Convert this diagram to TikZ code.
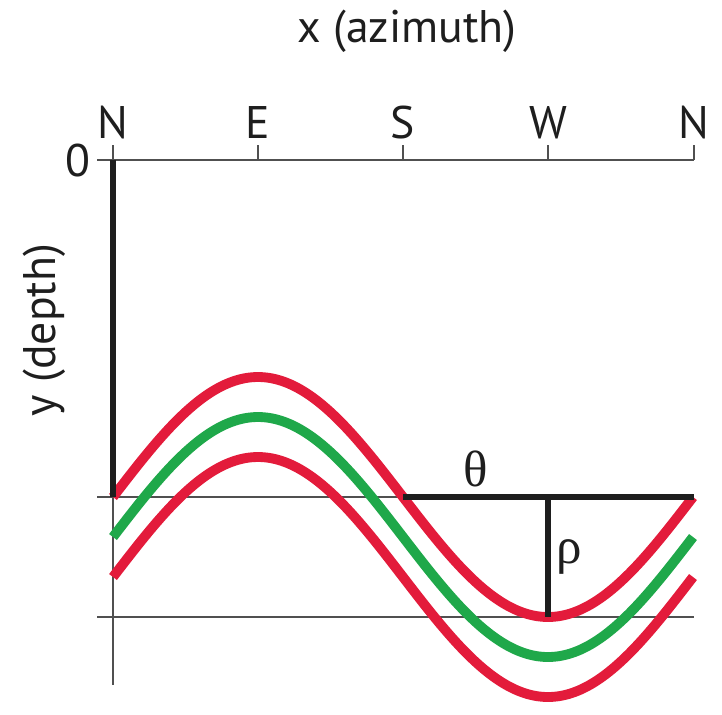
\documentclass[tikz,border=0pt]{standalone}
\usepackage{fontspec}
\setmainfont{PT Sans}
\newfontfamily\greekfont{Liberation Serif}
\usetikzlibrary{positioning}
\definecolor{sineink}{HTML}{1E1E1E}
\definecolor{sinegrid}{HTML}{505050}
\definecolor{sinered}{HTML}{E31B3B}
\definecolor{sinegreen}{HTML}{1FA84A}

\begin{document}
\begin{tikzpicture}[x=0.02cm,y=-0.02cm,
    thinline/.style={sinegrid,line width=0.8pt},
    thickline/.style={sineink,line width=3.1pt},
    sinecurve/.style={line width=5.6pt},
    dirlabel/.style={font=\fontsize{26}{28}\selectfont,text=sineink}]
    \useasboundingbox (0,0) rectangle (722,714);
    % axis corners and ticks
    \coordinate (top0) at (97,160);
    \coordinate (topN) at (113,160);
    \coordinate (topE) at (258,160);
    \coordinate (topS) at (403,160);
    \coordinate (topW) at (548,160);
    \coordinate (topN2) at (694,160);
    \coordinate (base) at (113,685);
    \coordinate (zl) at (97,497);
    \coordinate (zr) at (694,497);
    \coordinate (zs) at (403,497);
    \coordinate (zw) at (548,497);
    \coordinate (ml) at (97,617);
    \coordinate (mr) at (694,617);
    \coordinate (mw) at (548,617);
    \coordinate (zn) at (113,497);
    % labels
    \node[dirlabel] (title) at (407,31) {x (azimuth)};
    \node[dirlabel,rotate=90] (ylab) at (44,330) {y (depth)};
    \node[dirlabel] (zero) at (78,161) {0};
    \foreach \p/\t in {N/N,E/E,S/S,W/W,N2/N}
      \node[dirlabel,above=12pt of top\p,anchor=base] (lab\p) {\t};
    \foreach \p in {N,E,S,W,N2}
      \draw[thinline] (top\p) -- ++(0,-15);
    % grid
    \draw[thinline] (top0) -- (topN2);
    \draw[thinline] (topN) -- (base);
    \draw[thinline] (zl) -- (zr);
    \draw[thinline] (ml) -- (mr);
    % curves
    \foreach \c/\col in {577/sinered,537/sinegreen,497/sinered}
      \draw[sinecurve,\col] plot[domain=0:360,samples=120,smooth]
        ({113+1.61111*\x},{\c-120*sin(\x)});
    % theta and rho
    \draw[thickline] (topN) -- (zn);
    \draw[thickline] (zs) -- (zr);
    \draw[thickline] (zw) -- (mw);
    \node[font=\greekfont\fontsize{29}{31}\selectfont,text=sineink] (theta) at (476,469) {θ};
    \node[font=\greekfont\fontsize{29}{31}\selectfont,text=sineink] (rho) at (569,557) {ρ};
\end{tikzpicture}
\end{document}
